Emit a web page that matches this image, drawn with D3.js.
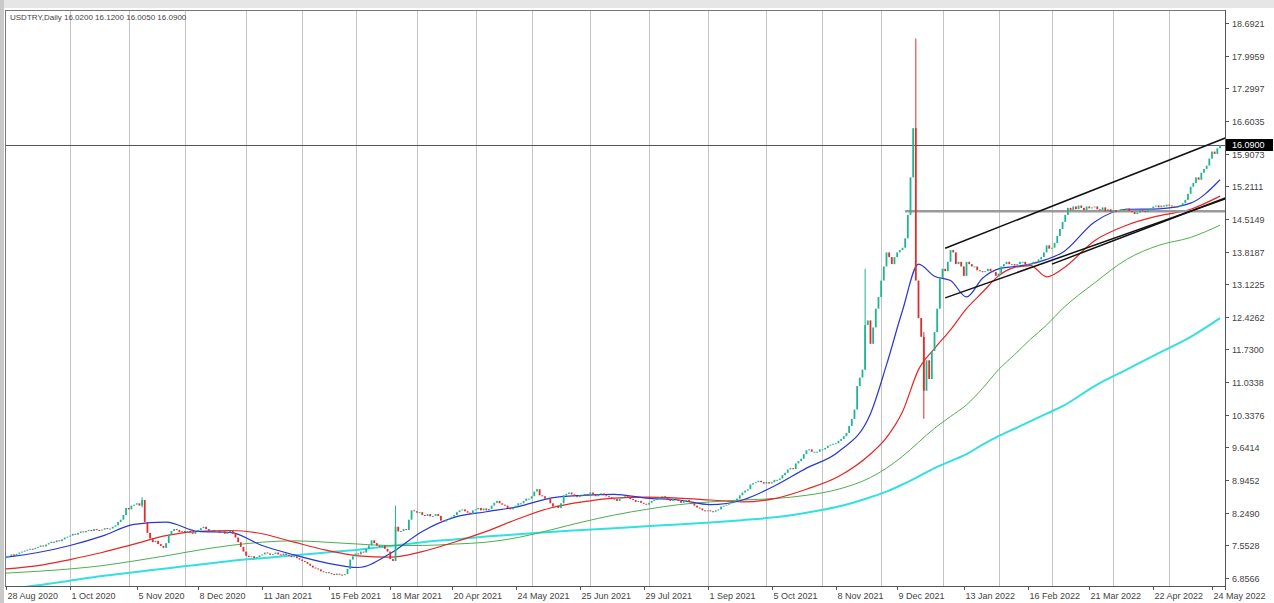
<!DOCTYPE html>
<html>
<head>
<meta charset="utf-8">
<script src="https://cdn.jsdelivr.net/npm/d3@7"></script>
<style>
  body { margin: 0; background: #fff; }
  svg { display: block; font-family: "Liberation Sans", Arial, sans-serif; }
</style>
</head>
<body>
<svg id="chart" width="1274" height="603"></svg>
<script>
// daily closes, one row per 24 bars (row start date in comment)
var closes = [
  // 28 Aug 2020
  7.30, 7.33, 7.36, 7.33, 7.37, 7.40, 7.42, 7.44, 7.46, 7.48, 7.47, 7.50, 7.52, 7.55, 7.53, 7.57, 7.60, 7.63, 7.62, 7.66, 7.64, 7.68, 7.72, 7.74,
  // 1 Oct 2020
  7.76, 7.80, 7.78, 7.82, 7.85, 7.83, 7.86, 7.88, 7.86, 7.90, 7.88, 7.87, 7.89, 7.92, 7.90, 7.91, 7.95, 7.98, 8.05, 8.10, 8.20, 8.35, 8.32, 8.40,
  // 4 Nov 2020
  8.42, 8.45, 8.40, 8.52, 8.05, 7.82, 7.70, 7.62, 7.65, 7.58, 7.54, 7.50, 7.60, 7.78, 7.86, 7.90, 7.88, 7.84, 7.86, 7.82, 7.86, 7.83, 7.80, 7.85,
  // 8 Dec 2020
  7.88, 7.92, 7.95, 7.90, 7.86, 7.88, 7.84, 7.86, 7.82, 7.85, 7.80, 7.83, 7.86, 7.80, 7.72, 7.62, 7.52, 7.42, 7.33, 7.30, 7.32, 7.28, 7.30, 7.34,
  // 11 Jan 2021
  7.36, 7.40, 7.38, 7.35, 7.37, 7.40, 7.36, 7.34, 7.38, 7.35, 7.33, 7.30, 7.32, 7.28, 7.25, 7.22, 7.20, 7.16, 7.12, 7.08, 7.06, 7.04, 7.00, 6.98,
  // 12 Feb 2021
  6.98, 6.96, 6.94, 6.92, 6.95, 6.93, 6.92, 6.94, 7.05, 7.25, 7.32, 7.38, 7.36, 7.42, 7.40, 7.48, 7.55, 7.66, 7.60, 7.55, 7.52, 7.55, 7.48, 7.42,
  // 18 Mar 2021
  7.26, 7.22, 7.95, 7.85, 7.86, 7.90, 7.88, 8.10, 8.30, 8.28, 8.25, 8.26, 8.20, 8.18, 8.22, 8.17, 8.18, 8.22, 8.18, 8.08, 8.06, 8.10, 8.12, 8.16,
  // 21 Apr 2021
  8.20, 8.26, 8.30, 8.32, 8.28, 8.25, 8.22, 8.30, 8.32, 8.35, 8.30, 8.34, 8.30, 8.33, 8.40, 8.46, 8.50, 8.45, 8.42, 8.40, 8.35, 8.32, 8.36, 8.40,
  // 25 May 2021
  8.45, 8.45, 8.50, 8.55, 8.55, 8.60, 8.70, 8.75, 8.62, 8.60, 8.55, 8.55, 8.45, 8.38, 8.40, 8.35, 8.45, 8.62, 8.65, 8.68, 8.64, 8.60, 8.58, 8.62,
  // 28 Jun 2021
  8.62, 8.65, 8.62, 8.68, 8.64, 8.60, 8.64, 8.66, 8.62, 8.60, 8.58, 8.55, 8.54, 8.50, 8.55, 8.58, 8.60, 8.57, 8.54, 8.52, 8.48, 8.50, 8.46, 8.44,
  // 30 Jul 2021
  8.42, 8.46, 8.50, 8.52, 8.55, 8.58, 8.60, 8.56, 8.54, 8.50, 8.55, 8.53, 8.50, 8.46, 8.50, 8.52, 8.48, 8.45, 8.40, 8.36, 8.34, 8.30, 8.28, 8.30,
  // 2 Sep 2021
  8.28, 8.27, 8.30, 8.32, 8.38, 8.40, 8.42, 8.45, 8.48, 8.50, 8.55, 8.62, 8.68, 8.72, 8.75, 8.85, 8.88, 8.90, 8.93, 8.90, 8.87, 8.90, 8.87, 8.90,
  // 6 Oct 2021
  8.95, 8.95, 8.98, 9.05, 9.10, 9.17, 9.20, 9.18, 9.30, 9.35, 9.40, 9.50, 9.58, 9.60, 9.55, 9.55, 9.55, 9.60, 9.60, 9.63, 9.68, 9.70, 9.72, 9.73,
  // 9 Nov 2021
  9.78, 9.82, 9.88, 9.95, 10.10, 10.25, 10.45, 10.95, 11.13, 11.30, 12.25, 12.35, 11.85, 12.20, 12.60, 12.85, 13.20, 13.50, 13.80, 13.70, 13.55, 13.70, 13.80, 13.85,
  // 13 Dec 2021
  13.90, 14.10, 14.60, 15.40, 16.45, 13.20, 12.40, 12.00, 10.85, 11.50, 11.10, 11.70, 12.10, 12.60, 13.25, 13.45, 13.40, 13.60, 13.85, 13.80, 13.55, 13.60, 13.50, 13.30,
  // 14 Jan 2022
  13.60, 13.55, 13.50, 13.50, 13.42, 13.40, 13.38, 13.40, 13.45, 13.40, 13.38, 13.30, 13.35, 13.50, 13.55, 13.60, 13.55, 13.55, 13.52, 13.55, 13.60, 13.60, 13.55, 13.55,
  // 17 Feb 2022
  13.55, 13.60, 13.58, 13.65, 13.70, 13.80, 13.95, 13.88, 13.90, 14.00, 14.15, 14.30, 14.45, 14.60, 14.75, 14.70, 14.78, 14.72, 14.80, 14.75, 14.70, 14.78, 14.74, 14.76,
  // 23 Mar 2022
  14.78, 14.72, 14.70, 14.76, 14.68, 14.72, 14.66, 14.70, 14.66, 14.68, 14.72, 14.70, 14.74, 14.68, 14.66, 14.62, 14.65, 14.70, 14.68, 14.66, 14.70, 14.74, 14.78, 14.80,
  // 26 Apr 2022
  14.76, 14.80, 14.78, 14.82, 14.80, 14.78, 14.75, 14.78, 14.80, 14.85, 14.92, 15.05, 15.20, 15.28, 15.40, 15.35, 15.50, 15.58, 15.65, 15.80, 15.95, 15.90, 16.02, 16.09
];

// bars with visible wicks
var wickBars  = [51, 146, 322, 341, 344];
var wickHighs = [8.58, 8.40, 13.45, 18.36, 12.10];
var wickLows  = [8.36, 7.22, 11.30, 16.40, 10.25];

var maBars  = [0, 12, 24, 36, 48, 60, 72, 84, 96, 108, 120, 132, 144, 156, 168, 180, 192, 204, 216, 228, 240, 252, 264, 276, 288, 300, 312, 324, 330, 336, 342, 348, 354, 360, 366, 372, 378, 384, 390, 396, 408, 420, 432, 444, 455];
var maBlue  = [7.30, 7.40, 7.55, 7.75, 8.00, 8.05, 7.85, 7.83, 7.55, 7.35, 7.18, 7.08, 7.38, 7.85, 8.15, 8.27, 8.38, 8.56, 8.62, 8.64, 8.56, 8.52, 8.42, 8.52, 8.82, 9.20, 9.55, 10.36, 11.40, 12.56, 13.55, 13.29, 13.20, 12.85, 13.25, 13.45, 13.50, 13.55, 13.65, 13.80, 14.45, 14.72, 14.73, 14.85, 15.35];
var maRed   = [7.05, 7.12, 7.25, 7.40, 7.58, 7.76, 7.85, 7.87, 7.80, 7.62, 7.45, 7.33, 7.30, 7.42, 7.62, 7.85, 8.12, 8.35, 8.48, 8.56, 8.58, 8.56, 8.52, 8.48, 8.55, 8.75, 9.02, 9.50, 9.85, 10.40, 11.30, 11.75, 12.15, 12.60, 12.95, 13.30, 13.48, 13.52, 13.28, 13.45, 14.05, 14.38, 14.58, 14.72, 15.00];
var maGreen = [6.96, 7.00, 7.05, 7.12, 7.22, 7.33, 7.45, 7.55, 7.62, 7.65, 7.62, 7.58, 7.55, 7.55, 7.58, 7.62, 7.72, 7.88, 8.05, 8.20, 8.32, 8.42, 8.48, 8.52, 8.55, 8.62, 8.75, 9.00, 9.20, 9.45, 9.75, 10.05, 10.30, 10.55, 10.90, 11.30, 11.62, 11.95, 12.25, 12.60, 13.15, 13.65, 13.95, 14.12, 14.38];
var maCyan  = [6.62, 6.70, 6.80, 6.90, 6.98, 7.06, 7.14, 7.22, 7.28, 7.34, 7.40, 7.46, 7.54, 7.62, 7.68, 7.74, 7.79, 7.84, 7.88, 7.92, 7.96, 8.00, 8.04, 8.09, 8.15, 8.25, 8.38, 8.58, 8.70, 8.85, 9.02, 9.20, 9.35, 9.50, 9.70, 9.88, 10.04, 10.20, 10.36, 10.52, 10.95, 11.30, 11.65, 12.00, 12.40];

// drawn objects: [bar, price]
var channelTop    = [[352, 13.89], [457, 16.24]];
var channelBottom = [[352, 12.83], [457, 14.94]];
var channelInner  = [[392, 13.55], [457, 14.96]];
var rangeLevel = 14.68, rangeStart = 337;
var lastPrice = 16.09;

// axis labels
var priceTicks = [6.8566, 7.5528, 8.2490, 8.9452, 9.6414, 10.3376, 11.0338, 11.7300, 12.4262, 13.1225,
                  13.8187, 14.5149, 15.2111, 15.9073, 16.6035, 17.2997, 17.9959, 18.6921];
var dateBars = [0, 24, 49, 72, 96, 121, 144, 167, 191, 215, 239, 263, 287, 311, 334, 359, 383, 406, 430, 452];
var dateLabels = ["28 Aug 2020", "1 Oct 2020", "5 Nov 2020", "8 Dec 2020", "11 Jan 2021", "15 Feb 2021",
                  "18 Mar 2021", "20 Apr 2021", "24 May 2021", "25 Jun 2021", "29 Jul 2021", "1 Sep 2021",
                  "5 Oct 2021", "8 Nov 2021", "9 Dec 2021", "13 Jan 2022", "16 Feb 2022", "21 Mar 2022",
                  "22 Apr 2022", "24 May 2022"];
var monthBars = [24, 46, 67, 90, 111, 131, 154, 176, 197, 219, 241, 263, 285, 306, 328, 351, 372, 392, 415, 436];
var title = "USDTRY,Daily  16.0200 16.1200 16.0050 16.0900";

var svg = d3.select("#chart");
var plotL = 5, plotR = 1225, plotT = 10, plotB = 586;

var x = d3.scaleLinear().domain([0, closes.length - 1]).range([6, 1220]);
var y = d3.scaleLinear().domain([priceTicks[0], priceTicks[priceTicks.length - 1]]).range([578, 23]);

// window chrome
svg.append("rect").attr("x", 0).attr("y", 0).attr("width", 1274).attr("height", 8).attr("fill", "#e6e6e6");
svg.append("rect").attr("x", 0).attr("y", 0).attr("width", 4).attr("height", 603).attr("fill", "#c9c9c9");

svg.append("defs").append("clipPath").attr("id", "plot")
  .append("rect").attr("x", plotL).attr("y", plotT).attr("width", plotR - plotL).attr("height", plotB - plotT);

var g = svg.append("g").attr("clip-path", "url(#plot)");

// month separators
g.selectAll("line.sep").data(monthBars).enter().append("line")
  .attr("x1", function(d) { return Math.round(x(d)) + 0.5; })
  .attr("x2", function(d) { return Math.round(x(d)) + 0.5; })
  .attr("y1", plotT).attr("y2", plotB)
  .attr("stroke", "#c4c4c4").attr("stroke-width", 1);

// moving averages
var line = d3.line()
  .x(function(d) { return x(d[0]); })
  .y(function(d) { return y(d[1]); })
  .curve(d3.curveMonotoneX);

var mas = [
  { vals: maCyan, color: "#33e0e0", width: 2 },
  { vals: maGreen, color: "#4caf50", width: 1 },
  { vals: maRed, color: "#e82424", width: 1.2 },
  { vals: maBlue, color: "#2636d8", width: 1.2 }
];
mas.forEach(function(m) {
  g.append("path")
    .datum(maBars.map(function(b, i) { return [b, m.vals[i]]; }))
    .attr("d", line)
    .attr("fill", "none")
    .attr("stroke", m.color)
    .attr("stroke-width", m.width);
});

// horizontal levels
g.append("line")
  .attr("x1", x(rangeStart)).attr("x2", plotR)
  .attr("y1", y(rangeLevel)).attr("y2", y(rangeLevel))
  .attr("stroke", "#9a9a9a").attr("stroke-width", 2.5);

g.append("line")
  .attr("x1", plotL).attr("x2", plotR)
  .attr("y1", Math.round(y(lastPrice)) + 0.5).attr("y2", Math.round(y(lastPrice)) + 0.5)
  .attr("stroke", "#555").attr("stroke-width", 1);

// candles (open = previous close)
var bars = closes.map(function(c, i) {
  return { i: i, o: i ? closes[i - 1] : c, c: c };
});

var up = "#1fb58f", down = "#e32b2b";

wickBars.forEach(function(b, k) {
  var d = bars[b];
  g.append("line")
    .attr("x1", x(b)).attr("x2", x(b))
    .attr("y1", y(wickHighs[k])).attr("y2", y(wickLows[k]))
    .attr("stroke", d.c >= d.o ? up : down)
    .attr("stroke-width", 1);
});

g.selectAll("rect.bar").data(bars).enter().append("rect")
  .attr("x", function(d) { return x(d.i) - 0.9; })
  .attr("width", 1.8)
  .attr("y", function(d) { return y(Math.max(d.o, d.c)); })
  .attr("height", function(d) { return Math.max(1, Math.abs(y(d.o) - y(d.c))); })
  .attr("fill", function(d) { return d.c >= d.o ? up : down; });

// channel lines
[channelTop, channelBottom, channelInner].forEach(function(seg) {
  g.append("line")
    .attr("x1", x(seg[0][0])).attr("y1", y(seg[0][1]))
    .attr("x2", x(seg[1][0])).attr("y2", y(seg[1][1]))
    .attr("stroke", "#111").attr("stroke-width", 1.5);
});

// frame
svg.append("line").attr("x1", plotL + 0.5).attr("x2", plotL + 0.5).attr("y1", plotT).attr("y2", plotB).attr("stroke", "#777");
svg.append("line").attr("x1", plotL).attr("x2", plotR).attr("y1", plotT + 0.5).attr("y2", plotT + 0.5).attr("stroke", "#777");
svg.append("line").attr("x1", plotR + 0.5).attr("x2", plotR + 0.5).attr("y1", plotT).attr("y2", plotB + 4).attr("stroke", "#555");
svg.append("line").attr("x1", plotL).attr("x2", plotR).attr("y1", plotB + 0.5).attr("y2", plotB + 0.5).attr("stroke", "#555");

// title
svg.append("text").attr("x", 10).attr("y", 20)
  .attr("font-size", 8).attr("fill", "#444")
  .text(title);

// price axis
var yAxis = svg.append("g");
priceTicks.forEach(function(v) {
  var py = Math.round(y(v)) + 0.5;
  yAxis.append("line").attr("x1", plotR).attr("x2", plotR + 4).attr("y1", py).attr("y2", py).attr("stroke", "#555");
  yAxis.append("text").attr("x", 1232).attr("y", py)
    .attr("dy", "0.35em").attr("font-size", 9).attr("fill", "#444")
    .text(d3.format(".4f")(v));
});

yAxis.append("rect")
  .attr("x", plotR + 1).attr("y", y(lastPrice) - 6)
  .attr("width", 47).attr("height", 12).attr("fill", "#000");
yAxis.append("text")
  .attr("x", 1232).attr("y", y(lastPrice))
  .attr("dy", "0.35em").attr("font-size", 9).attr("fill", "#fff")
  .text(d3.format(".4f")(lastPrice));

// time axis
var xAxis = svg.append("g");
dateBars.forEach(function(b, i) {
  var px = Math.round(x(b)) + 0.5;
  xAxis.append("line").attr("x1", px).attr("x2", px).attr("y1", plotB).attr("y2", plotB + 4).attr("stroke", "#555");
  xAxis.append("text").attr("x", px + 1).attr("y", 599)
    .attr("font-size", 9).attr("fill", "#444")
    .text(dateLabels[i]);
});
</script>
</body>
</html>
